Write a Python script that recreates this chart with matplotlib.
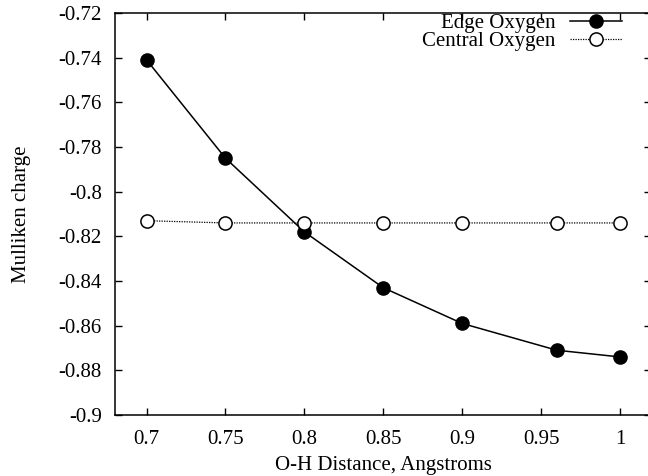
import matplotlib
matplotlib.use("Agg")
import matplotlib.pyplot as plt

# O-H distance (Angstroms) and Mulliken charges
distance = [0.7, 0.75, 0.8, 0.85, 0.9, 0.96, 1.0]
edge_oxygen = [-0.741, -0.785, -0.818, -0.843, -0.859, -0.871, -0.874]
central_oxygen = [-0.813, -0.814, -0.814, -0.814, -0.814, -0.814, -0.814]

x_ticks = [0.7, 0.75, 0.8, 0.85, 0.9, 0.95, 1.0]
x_labels = ["0.7", "0.75", "0.8", "0.85", "0.9", "0.95", "1"]
y_ticks = [-0.9, -0.88, -0.86, -0.84, -0.82, -0.8, -0.78, -0.76, -0.74, -0.72]
y_labels = ["-0.9", "-0.88", "-0.86", "-0.84", "-0.82", "-0.8", "-0.78", "-0.76", "-0.74", "-0.72"]

plt.rcParams["font.family"] = ["Liberation Serif", "DejaVu Serif"]
plt.rcParams["font.size"] = 15

W, H = 648, 476
fig = plt.figure(figsize=(W / 100, H / 100), dpi=100)
ax = fig.add_axes([115 / W, (H - 415) / H, (651.5 - 115) / W, (415 - 13) / H])

ax.plot(distance, edge_oxygen, "-o", color="black", lw=1.1,
        markersize=9.5, label="Edge Oxygen")
ax.plot(distance, central_oxygen, linestyle=(0, (1, 1)), marker="o",
        color="black", lw=0.9, markersize=9.5, markerfacecolor="white",
        markeredgewidth=1.1, label="Central Oxygen")

ax.set_xlim(0.68, 1.02)
ax.set_ylim(-0.9, -0.72)
ax.set_xticks(x_ticks)
ax.set_xticklabels(x_labels)
ax.set_yticks(y_ticks)
ax.set_yticklabels(y_labels)
ax.tick_params(direction="in", length=5, width=1, top=True, right=True)
ax.tick_params(axis="x", pad=11)
ax.tick_params(axis="y", pad=9.5)
for s in ax.spines.values():
    s.set_linewidth(1.1)

ax.set_xlabel("O-H Distance, Angstroms", labelpad=5)
ax.set_ylabel("Mulliken charge", labelpad=20)

ax.legend(loc="upper right", bbox_to_anchor=(1 - 21 / (651.5 - 115), 1.02),
          frameon=False, markerfirst=False, handlelength=2.5,
          handletextpad=0.7, borderaxespad=0, labelspacing=-0.05)

fig.savefig("out.png", dpi=100)
